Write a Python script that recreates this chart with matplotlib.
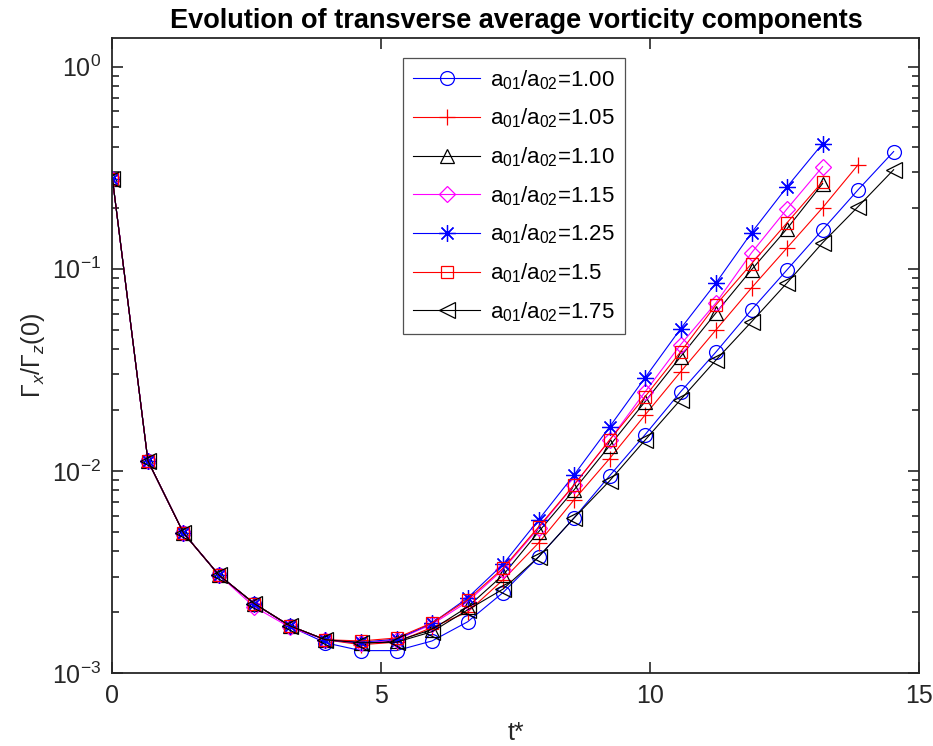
import numpy as np
import matplotlib
matplotlib.use("Agg")
import matplotlib.pyplot as plt

plt.rcParams['font.family'] = ['Liberation Sans', 'DejaVu Sans']
plt.rcParams['mathtext.fontset'] = 'custom'
plt.rcParams['mathtext.rm'] = 'Liberation Sans'
plt.rcParams['mathtext.it'] = 'Liberation Sans:italic'
plt.rcParams['mathtext.bf'] = 'Liberation Sans:bold'

# time step of the saved snapshots
dt = 0.66

# shared early decay (first 7 snapshots)
early = [0.279, 0.0112, 0.00493, 0.00305, 0.00220, 0.00171, 0.00146]

g100 = early[:5] + [0.00170, 0.00141, 0.00129, 0.00129, 0.00144, 0.00179, 0.00250,
                    0.00375, 0.00585, 0.00945, 0.0151, 0.0246, 0.0388, 0.0627,
                    0.0989, 0.156, 0.246, 0.380]
g105 = early + [0.00138, 0.00142, 0.00168, 0.00200, 0.00289,
                0.00440, 0.00719, 0.0115, 0.0189, 0.0309, 0.0499, 0.0805,
                0.127, 0.2005, 0.327]
g110 = early + [0.00140, 0.00144, 0.00164, 0.00212, 0.00305,
                0.00499, 0.00805, 0.0133, 0.0220, 0.0367, 0.0606, 0.0990,
                0.158, 0.264]
g115 = early[:4] + [0.00212, 0.00168, 0.00146] + [0.00140, 0.00146, 0.00174, 0.00225, 0.00325,
                                                    0.00520, 0.00850, 0.0142, 0.0246, 0.0421, 0.0679, 0.120,
                                                    0.198, 0.320]
g125 = early + [0.00142, 0.00147, 0.00176, 0.00235, 0.00345,
                0.00572, 0.00955, 0.0165, 0.0289, 0.0505, 0.0852, 0.151,
                0.2545, 0.416]
g150 = early + [0.00144, 0.00149, 0.00177, 0.00230, 0.00330,
                0.00528, 0.00853, 0.0142, 0.0233, 0.0388, 0.0664, 0.106,
                0.169, 0.270]
g175 = early + [0.00141, 0.00142, 0.00160, 0.00205, 0.00260,
                0.00375, 0.00585, 0.00892, 0.0142, 0.0225, 0.0354, 0.0547,
                0.0852, 0.1345, 0.203, 0.309]

series = [g100, g105, g110, g115, g125, g150, g175]
labels = ['1.00', '1.05', '1.10', '1.15', '1.25', '1.5', '1.75']
colors = ['#0000ff', '#ff0000', '#000000', '#ff00ff', '#0000ff', '#ff0000', '#000000']
# (8, 2, 0) is an eight-armed asterisk
markers = ['o', '+', '^', 'D', (8, 2, 0), 's', '<']
msizes = [10, 11, 10, 8, 12, 9, 11]

fig = plt.figure(figsize=(9.33, 7.46), dpi=100)
ax = fig.add_axes([0.1205, 0.0979, 0.8650, 0.8512])

for vals, lab, c, m, ms in zip(series, labels, colors, markers, msizes):
    t = dt * np.arange(len(vals))
    ax.plot(t, vals, color=c, lw=0.8, marker=m, ms=ms, mfc='none', mec=c, mew=0.9,
            label=r'$\mathrm{a_{01}/a_{02}}$=' + lab)

ax.set_yscale('log')
ax.set_xlim(0, 15)
ax.set_ylim(1e-3, 1.386)
ax.set_xticks([0, 5, 10, 15])
ax.set_xticklabels(['0', '5', '10', '15'])

for s in ax.spines.values():
    s.set_linewidth(1.3)
    s.set_color('#262626')
ax.tick_params(which='both', direction='in', top=True, right=True, colors='#262626',
               labelsize=18, labelcolor='#262626')
ax.tick_params(which='major', length=8, width=1.2, pad=8)
ax.tick_params(which='minor', length=5, width=1.2)
ax.tick_params(axis='x', which='minor', bottom=False, top=False)

ax.set_title('Evolution of transverse average vorticity components',
             fontsize=19.5, fontweight='bold', pad=7)
ax.set_xlabel('t*', fontsize=18, color='#262626', labelpad=9)
ax.set_ylabel(r'$\Gamma_x/\Gamma_z$(0)', fontsize=18, color='#262626', labelpad=4)

leg = ax.legend(loc='upper left', bbox_to_anchor=(0.3606, 0.9685), borderaxespad=0,
                fontsize=16, frameon=True, fancybox=False, handlelength=3.0,
                labelspacing=0.68, borderpad=0.45, handletextpad=0.45)
leg.get_frame().set_edgecolor('#262626')
leg.get_frame().set_linewidth(0.9)

fig.savefig('out.png', dpi=100)
